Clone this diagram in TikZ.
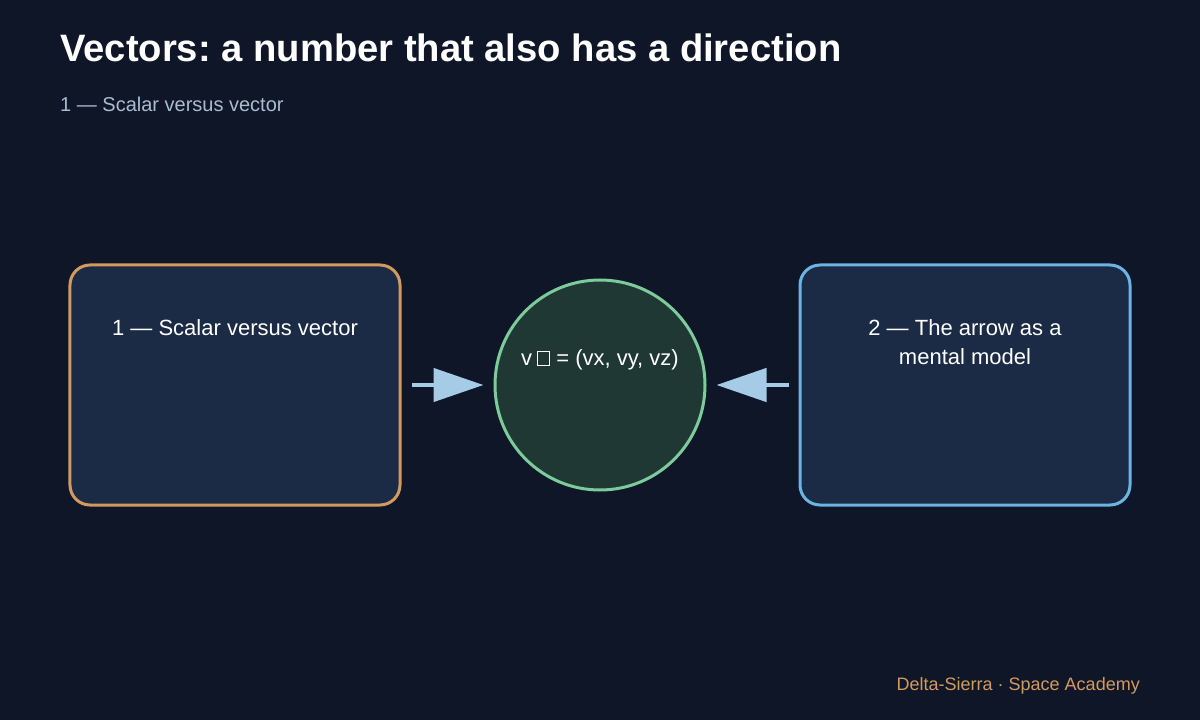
\documentclass[tikz,border=0pt]{standalone}
\usepackage{fontspec}
\setmainfont{Liberation Sans}
\usetikzlibrary{arrows.meta}
\definecolor{bg}{HTML}{0F1627}
\definecolor{boxfill}{HTML}{1B2A45}
\definecolor{circfill}{HTML}{1F3833}
\definecolor{orangeln}{HTML}{D39A5E}
\definecolor{blueln}{HTML}{6CB4E2}
\definecolor{greenln}{HTML}{7DCB9B}
\definecolor{arrowc}{HTML}{A5CBE6}
\definecolor{subc}{HTML}{A9BCD2}
\newcommand{\tofubox}{\hspace{5bp}{\setlength\fboxsep{0pt}\setlength\fboxrule{1bp}\fbox{\rule{0pt}{13bp}\hspace{10.5bp}}}\hspace{0.5bp}}
\tikzset{
  card/.style={draw, line width=3bp, fill=boxfill, rounded corners=20bp, minimum width=330bp, minimum height=240bp, inner sep=0pt},
  hub/.style={circle, draw=greenln, line width=3bp, fill=circfill, minimum size=210bp, inner sep=0pt},
  label/.style={text=white, font=\fontsize{22bp}{29bp}\selectfont, align=center, inner sep=0pt},
  flow/.style={draw=arrowc, line width=4.5bp, shorten >=10bp, shorten <=10bp, -{Triangle[length=50bp, width=33bp]}}
}
\begin{document}
\frenchspacing
\begin{tikzpicture}[x=1bp, y=-1bp]
\path[fill=bg, use as bounding box] (0,0) rectangle (1200,720);
\node[anchor=base west, text=white, font=\fontsize{38.2bp}{44bp}\selectfont\bfseries, inner sep=0pt] (title) at (60,62) {Vectors: a number that also has a direction};
\node[anchor=base west, text=subc, font=\fontsize{20bp}{24bp}\selectfont, inner sep=0pt] (sub) at (60,112) {1 — Scalar versus vector};
\node[card, draw=orangeln] (lbox) at (235,385) {};
\node[card, draw=blueln] (rbox) at (965,385) {};
\node[hub] (hub) at (600,385) {};
\node[label, anchor=base] (ltext) at (235,335) {1 — Scalar versus vector};
\node[label, anchor=base] (rtext) at (965,364) {2 — The arrow as a\\mental model};
\node[label, anchor=base] (htext) at (600,365) {v\tofubox{} = (vx, vy, vz)};
\draw[flow] (lbox.east) -- (hub.west);
\draw[flow] (rbox.west) -- (hub.east);
\node[anchor=base east, text=orangeln, font=\fontsize{18bp}{22bp}\selectfont, inner sep=0pt] (foot) at (1140,690) {Delta-Sierra · Space Academy};
\end{tikzpicture}
\end{document}
